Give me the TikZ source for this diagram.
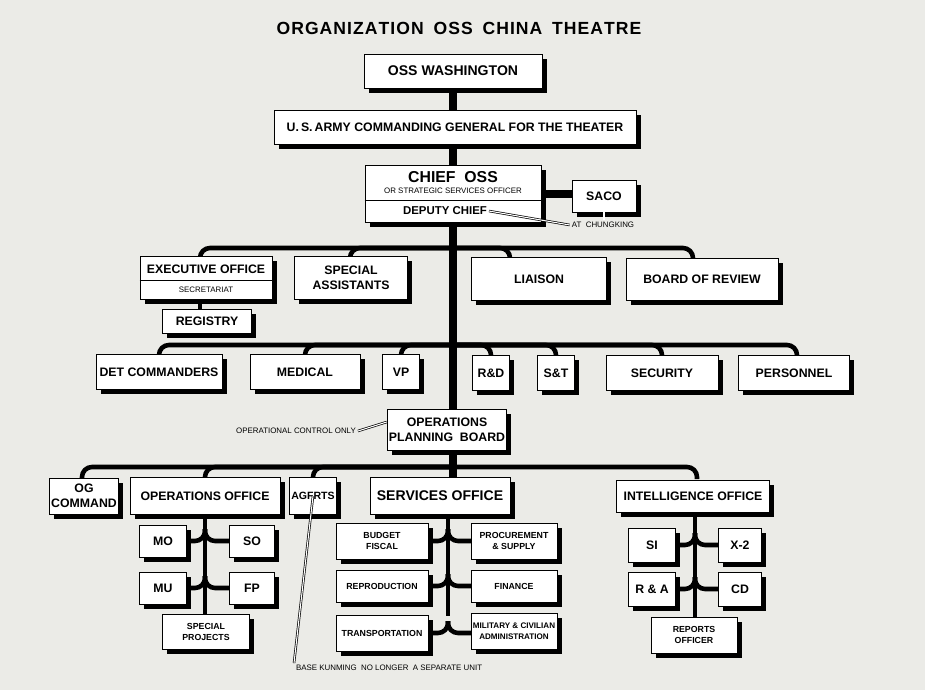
\documentclass[tikz,border=0pt]{standalone}
\usepackage{fontspec}
\setmainfont{Liberation Sans}
\usetikzlibrary{shadows}
\definecolor{paper}{HTML}{EBEBE7}
\tikzset{
  box/.style 2 args={draw=black,fill=white,line width=0.5pt,inner sep=1pt,align=center,
    font=\bfseries\fontsize{7}{8.5}\selectfont,
    minimum width=#1*0.02cm,minimum height=#2*0.02cm,
    drop shadow={shadow xshift=0.09cm,shadow yshift=-0.09cm,fill=black,opacity=1}},
  small/.style={font=\bfseries\fontsize{5}{6.5}\selectfont},
  note/.style={font=\fontsize{4.5}{5}\selectfont,inner sep=1pt},
  trunk/.style={line width=4.5pt},
  branch/.style={line width=2.6pt,rounded corners=0.2cm},
  lead/.style={line width=0.4pt}
}
\begin{document}
\begin{tikzpicture}[x=0.02cm,y=-0.02cm]
\fill[paper] (0,0) rectangle (925,690);
\useasboundingbox (0,0) rectangle (925,690);
\node (title) at (459,28) {\bfseries\fontsize{10}{12}\selectfont O\kern.6pt R\kern.6pt G\kern.6pt A\kern.6pt N\kern.6pt I\kern.6pt Z\kern.6pt A\kern.6pt T\kern.6pt I\kern.6pt O\kern.6pt N\ \ O\kern.6pt S\kern.6pt S\ \ C\kern.6pt H\kern.6pt I\kern.6pt N\kern.6pt A\ \ T\kern.6pt H\kern.6pt E\kern.6pt A\kern.6pt T\kern.6pt R\kern.6pt E};
% top of the chain
\draw[trunk] (453,71) -- (453,430);
\node[box={178}{34}] (wash) at (453,71) {\fontsize{8}{9}\selectfont OSS WASHINGTON};
\node[box={362}{34}] (army) at (455,127) {U.\,S.\,ARMY COMMANDING GENERAL FOR THE THEATER};
\draw[trunk] (604,194) -- (530,194);
\node[box={176}{57}] (chief) at (453,194) {};
\draw[lead] (chief.west |- 0,200) -- (chief.east |- 0,200);
\node (chieft) at (453,177) {\bfseries\fontsize{9}{10}\selectfont CHIEF\ \ OSS};
\node[note] (chiefs) at (453,191) {OR\ STRATEGIC SERVICES OFFICER};
\node[font=\bfseries\fontsize{6.5}{8}\selectfont,inner sep=1pt] (deputy) at (445,211) {DEPUTY CHIEF};
\node[box={64}{32}] (saco) at (604,196) {SACO};
\coordinate (sacol) at (604,202);
\node[note] (chung) at (603,225) {AT\ \ CHUNGKING};
\draw[lead,double,double distance=0.6pt] (deputy.east) -- (chung.west);
\draw[lead,double,double distance=0.6pt] (sacol) -- (chung.north -| sacol);
% first row
\coordinate (b1) at (453,248);
\draw[branch] (b1) -| (200,258);
\draw[branch] (b1) -| (350,258);
\draw[branch] (b1) -| (510,258);
\draw[branch] (b1) -| (693,258);
\draw[branch] (200,300) -- (200,321);
\node[box={132}{43}] (exec) at (206,278) {};
\draw[lead] (exec.west |- 0,280) -- (exec.east |- 0,280);
\node[font=\bfseries\fontsize{7}{8}\selectfont] (exect) at (206,269) {EXECUTIVE OFFICE};
\node[note,font=\fontsize{4.5}{5}\selectfont] (secr) at (206,290) {SECRETARIAT};
\node[box={113}{43}] (spec) at (351,278) {SPECIAL\\ASSISTANTS};
\node[box={135}{43}] (liaison) at (539,279) {LIAISON};
\node[box={152}{42}] (board) at (702,279) {BOARD OF REVIEW};
\node[box={89}{24}] (reg) at (207,321) {REGISTRY};
% second row
\coordinate (b2) at (453,345);
\foreach \x in {159,305,401,491,556,662,797}
  \draw[branch] (b2) -| (\x,356);
\node[box={126}{35}] (det) at (159,372) {DET COMMANDERS};
\node[box={110}{35}] (med) at (305,372) {MEDICAL};
\node[box={37}{35}] (vp) at (401,372) {VP};
\node[box={37}{35}] (rd) at (491,373) {R\&D};
\node[box={37}{35}] (st) at (556,373) {S\&T};
\node[box={112}{35}] (secu) at (662,373) {SECURITY};
\node[box={111}{35}] (pers) at (794,373) {PERSONNEL};
% operations planning board
\node[box={112}{41}] (opb) at (447,430) {OPERATIONS\\PLANNING\ \ BOARD};
\node[note] (opctl) at (296,431) {OPERATIONAL\ CONTROL\ ONLY};
\draw[lead,double,double distance=0.6pt] (opctl.east) -- (opb.west |- 0,422);
\draw[trunk] (453,450) -- (453,478);
\coordinate (b3) at (453,467);
\foreach \x in {82,205,313,697}
  \draw[branch] (b3) -| (\x,479);
% sub trunks
\draw[branch] (205,515) -- (205,616);
\draw[branch] (448,515) -- (448,616);
\draw[branch] (695,512) -- (695,618);
\foreach \y in {541,588}{
  \draw[branch] (187,\y) -| (205,\y-12);
  \draw[branch] (230,\y) -| (205,\y-12);}
\foreach \y in {541,586,633}{
  \draw[branch] (428,\y) -| (448,\y-12);
  \draw[branch] (471,\y) -| (448,\y-12);}
\foreach \y in {545,589}{
  \draw[branch] (676,\y) -| (695,\y-12);
  \draw[branch] (718,\y) -| (695,\y-12);}
% third row
\node[box={67}{36}] (og) at (84,496) {OG\\COMMAND};
\node[box={150}{37}] (opsoff) at (205,496) {OPERATIONS OFFICE};
\node[box={35}{37},font=\bfseries\fontsize{6}{7}\selectfont] (agfrts) at (313,496) {AGFRTS};
\node[box={140}{37}] (servoff) at (440,496) {\fontsize{8}{9}\selectfont SERVICES OFFICE};
\node[box={153}{32}] (intel) at (693,496) {INTELLIGENCE OFFICE};
% operations office units
\node[box={47}{32}] (mo) at (163,541) {MO};
\node[box={45}{32}] (so) at (252,541) {SO};
\node[box={47}{32}] (mu) at (163,588) {MU};
\node[box={45}{32}] (fp) at (252,588) {FP};
\node[box={87}{35},small] (sproj) at (206,632) {SPECIAL\\PROJECTS};
% services office units
\node[box={92}{36},small] (budget) at (382,541) {BUDGET\\FISCAL};
\node[box={86}{36},small] (proc) at (514,541) {PROCUREMENT\\\& SUPPLY};
\node[box={92}{32},small] (repro) at (382,586) {REPRODUCTION};
\node[box={86}{32},small] (fin) at (514,586) {FINANCE};
\node[box={92}{36},small] (trans) at (382,633) {TRANSPORTATION};
\node[box={86}{36},small,font=\bfseries\fontsize{4.6}{6.5}\selectfont] (milciv) at (514,631) {MILITARY \& CIVILIAN\\ADMINISTRATION};
% intelligence office units
\node[box={47}{34}] (si) at (652,545) {SI};
\node[box={43}{34}] (x2) at (740,545) {X-2};
\node[box={47}{34}] (ra) at (652,589) {R \& A};
\node[box={43}{34}] (cd) at (740,589) {CD};
\node[box={86}{36},small] (rep) at (694,635) {REPORTS\\OFFICER};
% base kunming note
\node[note,anchor=west] (kun) at (294,668) {BASE KUNMING\ \ NO LONGER\ \ A SEPARATE UNIT};
\draw[lead,double,double distance=0.6pt] (agfrts.center) -- (kun.north west);
\end{tikzpicture}
\end{document}
